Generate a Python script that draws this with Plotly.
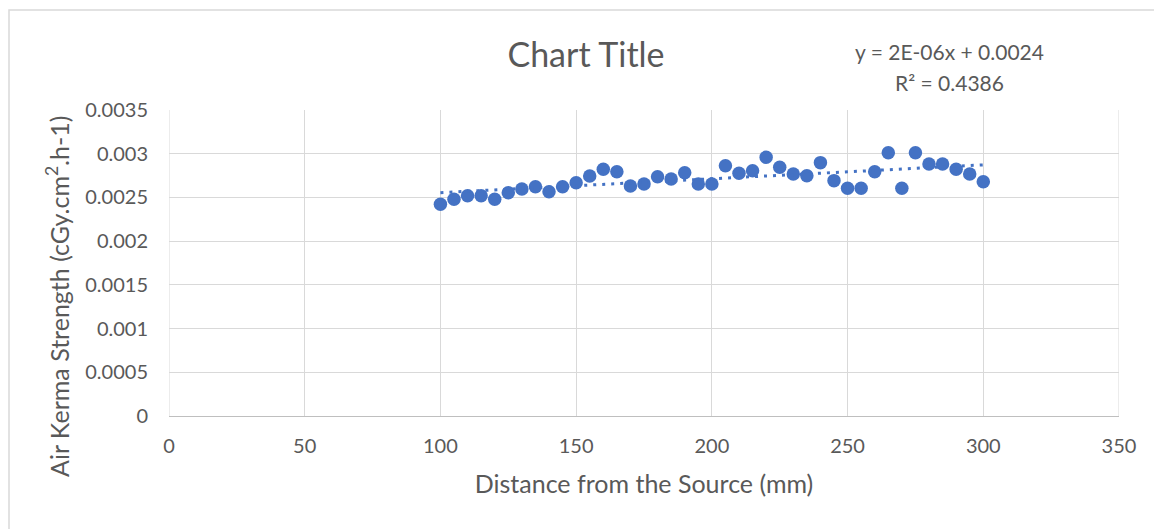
import numpy as np
import plotly.graph_objects as go

distance_mm = [100, 105, 110, 115, 120, 125, 130, 135, 140, 145, 150, 155, 160, 165, 170,
               175, 180, 185, 190, 195, 200, 205, 210, 215, 220, 225, 230, 235, 240, 245,
               250, 255, 260, 265, 270, 275, 280, 285, 290, 295, 300]
air_kerma = [0.002421, 0.002478, 0.002520, 0.002520, 0.002478, 0.002554, 0.002596, 0.002623,
             0.002566, 0.002623, 0.002669, 0.002745, 0.002822, 0.002794, 0.002631, 0.002654,
             0.002737, 0.002711, 0.002783, 0.002654, 0.002654, 0.002863, 0.002776, 0.002806,
             0.002959, 0.002845, 0.002768, 0.002749, 0.002898, 0.002692, 0.002604, 0.002604,
             0.002794, 0.003012, 0.002604, 0.003012, 0.002882, 0.002882, 0.002822, 0.002768,
             0.002680]
x_ticks = [0, 50, 100, 150, 200, 250, 300, 350]
y_ticks = [0, 0.0005, 0.001, 0.0015, 0.002, 0.0025, 0.003, 0.0035]
y_tick_labels = ["0", "0.0005", "0.001", "0.0015", "0.002", "0.0025", "0.003", "0.0035"]
title_text = "Chart Title"
x_title = "Distance from the Source (mm)"
y_title = "Air Kerma Strength (cGy.cm<sup>2</sup>.h-1)"
equation_line1 = "y = 2E-06x + 0.0024"
equation_line2 = "R² = 0.4386"

xa = np.array(distance_mm, dtype=float)
ya = np.array(air_kerma, dtype=float)
slope, intercept = np.polyfit(xa, ya, 1)
trend_x = [min(distance_mm), max(distance_mm)]
trend_y = [slope * v + intercept for v in trend_x]

FONT = "Lato, 'Open Sans', sans-serif"
TXT = "#595959"
GRID = "#d9d9d9"

# page body has an 8px margin; figure is sized so the plot lands where the reference has it
W, H = 1154, 521
ML, MR, MT, MB = 161, 43, 102, 113
PW, PH = W - ML - MR, H - MT - MB


def px_x(p):  # page pixel -> paper x
    return (p - 8 - ML) / PW


def px_y(p):  # page pixel -> paper y
    return (H - MB - (p - 8)) / PH


fig = go.Figure()
fig.add_trace(go.Scatter(x=distance_mm, y=air_kerma, mode="markers",
                         marker=dict(size=13.5, color="#4472C4"), showlegend=False))
fig.add_trace(go.Scatter(x=trend_x, y=trend_y, mode="lines",
                         line=dict(color="#4472C4", width=3, dash="3px,6px"), showlegend=False))

fig.update_layout(
    width=W, height=H,
    margin=dict(l=ML, r=MR, t=MT, b=MB),
    paper_bgcolor="white", plot_bgcolor="white",
    font=dict(family=FONT, color=TXT, size=20),
    title=dict(text=title_text, x=(586 - 8) / W, xref="container", xanchor="center",
               y=1 - (55 - 8) / H, yref="container", yanchor="middle",
               font=dict(size=34, color=TXT, family=FONT)),
    xaxis=dict(range=[0, 350], tickvals=x_ticks, showgrid=True, gridcolor=GRID, gridwidth=1,
               zeroline=False, showline=True, linecolor="#bfbfbf", linewidth=1, mirror=False,
               ticks="", tickfont=dict(size=20, color=TXT), ticklabelstandoff=12,
               title=dict(text=x_title, font=dict(size=25, color=TXT), standoff=19)),
    yaxis=dict(range=[0, 0.0035], tickvals=y_ticks, ticktext=y_tick_labels, showgrid=True,
               gridcolor=GRID, gridwidth=1, zeroline=False, showline=False, ticks="",
               tickfont=dict(size=20, color=TXT), ticklabelstandoff=20),
)
fig.add_shape(type="line", xref="x", yref="paper", x0=0, x1=0, y0=0, y1=1,
              line=dict(color=GRID, width=1))
fig.add_shape(type="line", xref="x", yref="paper", x0=350, x1=350, y0=0, y1=1,
              line=dict(color=GRID, width=1))
fig.add_shape(type="rect", xref="paper", yref="paper",
              x0=px_x(9), x1=1.2, y0=-0.6, y1=px_y(10),
              line=dict(color=GRID, width=1.5), layer="below")
fig.add_annotation(text=y_title, xref="paper", yref="paper", textangle=-90,
                   x=px_x(57), y=px_y(297), showarrow=False,
                   xanchor="center", yanchor="middle",
                   font=dict(size=25, color=TXT, family=FONT))
fig.add_annotation(text=equation_line1, xref="paper", yref="paper",
                   x=px_x(949), y=px_y(51), showarrow=False,
                   xanchor="center", yanchor="middle",
                   font=dict(size=21, color=TXT, family=FONT))
fig.add_annotation(text=equation_line2, xref="paper", yref="paper",
                   x=px_x(949), y=px_y(82), showarrow=False,
                   xanchor="center", yanchor="middle",
                   font=dict(size=21, color=TXT, family=FONT))
fig.write_html("out.html")
